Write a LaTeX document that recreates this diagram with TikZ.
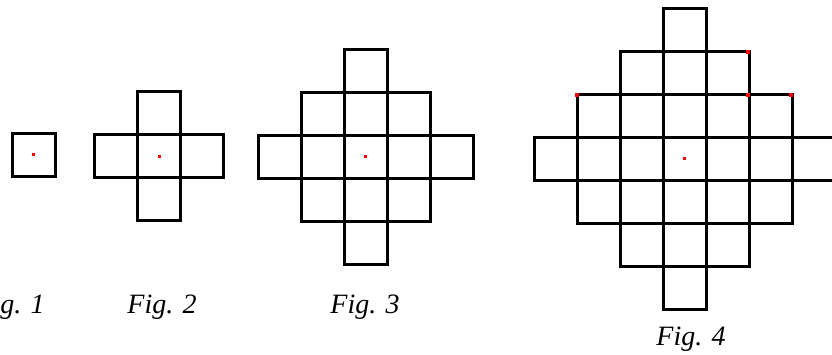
\documentclass[tikz,border=0pt]{standalone}
\usepackage{fontspec}
\setmainfont{Liberation Serif}
\begin{document}
\begin{tikzpicture}[x=1pt,y=-1pt,
  cell/.style={draw=black,line width=3pt},
  dot/.style={fill=red},
  caption/.style={font=\fontsize{28}{30}\selectfont\itshape,anchor=base,inner sep=0pt}]
\useasboundingbox (0,0) rectangle (832,354);
% side of one square
\def\s{43}
% diamond of squares: centre (cx,cy), radius r in cells
\newcommand\diamondgrid[3]{%
  \pgfmathtruncatemacro\rr{#3}
  \foreach \i in {-\rr,...,\rr}{
    \foreach \j in {-\rr,...,\rr}{
      \pgfmathtruncatemacro\dd{abs(\i)+abs(\j)}
      \ifnum\dd>\rr\relax\else
        \draw[cell] ({#1+(\i-0.5)*\s},{#2+(\j-0.5)*\s}) rectangle ({#1+(\i+0.5)*\s},{#2+(\j+0.5)*\s});
      \fi
    }
  }
  \fill[dot] ({#1-1.5},{#2-1.5}) rectangle ({#1+1.5},{#2+1.5});
}
\diamondgrid{33.5}{154.5}{0}
\diamondgrid{159.3}{156}{1}
\diamondgrid{365.5}{156.5}{2}
\diamondgrid{684.5}{158.7}{3}
% marked corners on the largest figure
\foreach \p in {(577,94.5),(748,51.5),(748,94.5),(791,94.5)}
  \fill[dot] \p ++(-2,-2) rectangle ++(4,4);
% captions
\node[caption] (c1) at (10,313) {Fig. 1};
\node[caption] (c2) at (162,313) {Fig. 2};
\node[caption] (c3) at (365,313) {Fig. 3};
\node[caption] (c4) at (691,345) {Fig. 4};
\end{tikzpicture}
\end{document}
